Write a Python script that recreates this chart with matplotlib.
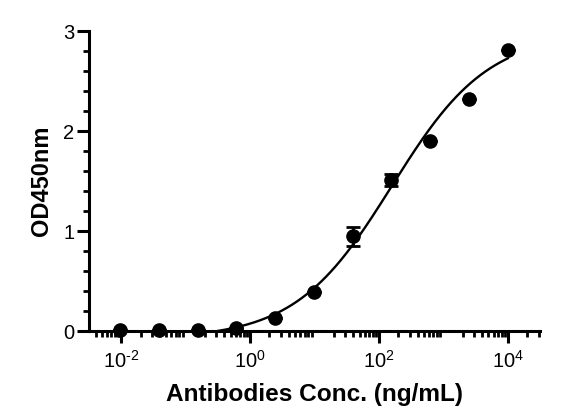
import numpy as np
import matplotlib
matplotlib.use("Agg")
import matplotlib.pyplot as plt
from matplotlib.ticker import LogLocator, MultipleLocator, FixedLocator

plt.rcParams['font.family'] = ['Liberation Sans', 'DejaVu Sans']
plt.rcParams['mathtext.fontset'] = 'custom'
plt.rcParams['mathtext.rm'] = 'Liberation Sans'

# Data (4-fold dilution series, ng/mL)
conc = [0.0095, 0.038, 0.153, 0.61, 2.44, 9.77, 39.06, 156.25, 625, 2500, 10000]
od = [0.01, 0.01, 0.01, 0.03, 0.13, 0.39, 0.95, 1.51, 1.90, 2.32, 2.81]
err = [0.0, 0.0, 0.0, 0.0, 0.0, 0.0, 0.095, 0.06, 0.0, 0.0, 0.0]

# 4PL fit parameters
fit_bottom = -0.08
fit_top = 2.98
fit_logec50 = 2.2
fit_hill = 0.58

xtick_vals = [1e-2, 1e0, 1e2, 1e4]
xtick_labels = [r'$\mathregular{10^{\text{-}2}}$', r'$\mathregular{10^{0}}$',
                r'$\mathregular{10^{2}}$', r'$\mathregular{10^{4}}$']

fig = plt.figure(figsize=(5.62, 4.19), dpi=100)
ax = fig.add_axes([0.1584, 0.21, 0.8025, 0.716])

xs = np.logspace(np.log10(conc[0]), np.log10(conc[-1]), 400)
ys = fit_bottom + (fit_top - fit_bottom) / (1 + 10 ** ((fit_logec50 - np.log10(xs)) * fit_hill))
ys = np.where(ys < 0, np.nan, ys)
ax.plot(xs, ys, color='black', lw=1.7, zorder=2)

ax.errorbar(conc, od, yerr=err, fmt='o', color='black', ms=9.5, elinewidth=2,
            capsize=5, capthick=2, zorder=3, clip_on=False)

ax.set_xscale('log')
ax.set_xlim(10 ** -2.5, 10 ** 4.5)
ax.set_ylim(0, 3)

ax.spines['top'].set_visible(False)
ax.spines['right'].set_visible(False)
for s in ['left', 'bottom']:
    ax.spines[s].set_linewidth(2.2)

ax.xaxis.set_major_locator(FixedLocator(xtick_vals))
ax.set_xticklabels(xtick_labels)
ax.xaxis.set_minor_locator(LogLocator(base=10, subs=np.arange(2, 10) * 1.0, numticks=20))
ax.xaxis.set_minor_formatter(plt.NullFormatter())

ax.yaxis.set_major_locator(MultipleLocator(1))
ax.yaxis.set_minor_locator(MultipleLocator(0.2))

ax.tick_params(axis='both', which='major', length=8.5, width=2.2, labelsize=14.5, pad=2)
ax.tick_params(axis='both', which='minor', length=4.3, width=2.0)
ax.tick_params(axis='x', which='major', pad=5)

ax.set_ylabel('OD450nm', fontsize=17, fontweight='bold', labelpad=7)
ax.set_xlabel('Antibodies Conc. (ng/mL)', fontsize=17.6, fontweight='bold', labelpad=8)

fig.savefig('out.png', dpi=100)
